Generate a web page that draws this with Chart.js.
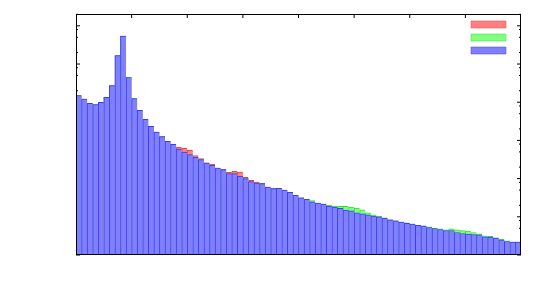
<!DOCTYPE html>
<html>
<head>
<meta charset="utf-8">
<script src="https://cdn.jsdelivr.net/npm/chart.js@4.4.1/dist/chart.umd.min.js"></script>
<style>
  html, body { margin: 0; padding: 0; background: #fff; }
</style>
</head>
<body>
<canvas id="hist" width="543" height="295"></canvas>
<script>
// 80 histogram bins, log y axis
const bins = Array.from({length: 80}, (_, i) => i);

const blueCounts = [
  15000, 12000, 9400, 8700, 10000, 13500, 27400, 167000, 537000, 44400,
  12500, 6160, 3580, 2340, 1660, 1260, 948, 791, 595, 497,
  425, 361, 314, 256, 222, 189, 172, 135, 135, 115,
  100, 83, 76, 74, 60, 54.5, 55.5, 50, 43.6, 36.3,
  31.6, 28.5, 24.8, 22.8, 21.5, 19.0, 17.9, 16.6, 15.0, 14.4,
  12.8, 12.0, 11.3, 10.4, 10.0, 9.06, 8.38, 7.89, 7.25, 6.70,
  6.42, 5.94, 5.69, 5.26, 4.95, 4.66, 4.39, 4.39, 3.89, 3.66,
  3.51, 3.45, 3.39, 3.00, 2.93, 2.76, 2.50, 2.26, 2.17, 2.17
];

const redCounts = [
  15000, 12000, 9400, 8700, 10000, 13500, 27400, 167000, 537000, 44400,
  12500, 6160, 3580, 2340, 1660, 1260, 948, 800, 660, 621,
  550, 400, 333, 260, 241, 189, 175, 146, 155, 148,
  108, 90, 81, 75, 60, 56.5, 55.5, 50, 43.6, 36.3,
  31.6, 28.5, 24.8, 22.8, 21.5, 19.0, 17.9, 16.6, 15.0, 14.4,
  12.8, 12.0, 11.3, 10.4, 10.0, 9.06, 8.38, 7.89, 7.25, 6.70,
  6.42, 5.94, 5.69, 5.26, 4.95, 4.66, 4.39, 4.39, 3.89, 3.66,
  3.51, 3.45, 3.39, 3.00, 2.93, 2.76, 2.50, 2.26, 2.17, 2.17
];

const greenCounts = [
  15000, 12000, 9400, 8700, 10000, 13500, 27400, 167000, 537000, 44400,
  12500, 6160, 3580, 2340, 1660, 1260, 948, 791, 595, 497,
  425, 361, 314, 256, 222, 189, 172, 135, 135, 115,
  100, 83, 76, 74, 60, 54.5, 55.5, 50, 43.6, 36.3,
  31.6, 28.5, 26.4, 22.8, 21.5, 20.2, 19.0, 18.7, 18.7, 17.9,
  16.9, 15.3, 12.8, 11.3, 10.4, 9.45, 8.38, 7.89, 7.25, 6.99,
  6.42, 5.94, 5.83, 5.49, 5.04, 4.86, 4.58, 4.86, 4.58, 4.39,
  4.21, 3.89, 3.60, 3.19, 3.06, 2.83, 2.60, 2.36, 2.17, 2.17
];

// tick marks (no labels in the original)
const yMajorTicks = [1, 10, 100, 1e3, 1e4, 1e5, 1e6];
const yMinorTicks = [2, 5, 8, 20, 50, 80, 200, 500, 800, 2e3, 5e3, 8e3,
                     2e4, 5e4, 8e4, 2e5, 5e5, 8e5, 2e6];
const xTickBins = [10, 20, 30, 40, 50, 60, 70];

const yMin = 1;
const yMax = 2.04e6;

const frameTicks = {
  id: 'frameTicks',
  afterLayout(chart) {
    // put the legend inside the plot, top right
    const a = chart.chartArea;
    const lg = chart.legend;
    lg.left = a.right - 56;
    lg.right = a.right;
    lg.top = a.top + 1;
    lg.bottom = a.bottom;
  },
  beforeDatasetsDraw(chart) {
    const {ctx, chartArea: a, scales: {x, y}} = chart;
    ctx.save();
    ctx.strokeStyle = '#000';
    ctx.lineWidth = 1;
    ctx.beginPath();
    const yTick = (v, len) => {
      const py = y.getPixelForValue(v);
      if (py < a.top || py > a.bottom) return;
      ctx.moveTo(a.left, py); ctx.lineTo(a.left + len, py);
      ctx.moveTo(a.right, py); ctx.lineTo(a.right - len, py);
    };
    yMajorTicks.forEach(v => yTick(v, 4));
    yMinorTicks.forEach(v => yTick(v, 2));
    xTickBins.forEach(b => {
      const px = (x.getPixelForValue(b - 1) + x.getPixelForValue(b)) / 2;
      ctx.moveTo(px, a.top); ctx.lineTo(px, a.top + 4);
      ctx.moveTo(px, a.bottom); ctx.lineTo(px, a.bottom - 4);
    });
    ctx.stroke();
    ctx.restore();
  },
  afterDatasetsDraw(chart) {
    const {ctx, chartArea: a} = chart;
    ctx.save();
    ctx.strokeStyle = '#000';
    ctx.lineWidth = 1;
    ctx.strokeRect(a.left + 0.5, a.top + 0.5, a.right - a.left - 1, a.bottom - a.top - 1);
    ctx.restore();
  }
};

const barBorder = {left: 1, top: 1, right: 0, bottom: 0};

new Chart(document.getElementById('hist'), {
  type: 'bar',
  data: {
    labels: bins,
    datasets: [{
      label: '',
      data: redCounts,
      backgroundColor: '#ff8080',
      borderColor: '#ff3c3c',
      borderWidth: barBorder,
      order: 3
    }, {
      label: '',
      data: greenCounts,
      backgroundColor: '#80ff80',
      borderColor: '#30e030',
      borderWidth: barBorder,
      order: 2
    }, {
      label: '',
      data: blueCounts,
      backgroundColor: '#8080ff',
      borderColor: '#3c3cff',
      borderWidth: barBorder,
      order: 1
    }]
  },
  options: {
    responsive: false,
    animation: false,
    layout: {
      padding: {left: 76, top: 14, right: 22, bottom: 40}
    },
    datasets: {
      bar: {
        grouped: false,
        barPercentage: 1,
        categoryPercentage: 1,
        borderSkipped: 'start'
      }
    },
    scales: {
      x: { display: false },
      y: { type: 'logarithmic', display: false, min: yMin, max: yMax }
    },
    plugins: {
      tooltip: { enabled: false },
      legend: {
        position: 'chartArea',
        align: 'start',
        labels: {
          boxWidth: 35,
          boxHeight: 7,
          padding: 6,
          font: { size: 6 },
          sort: (a, b) => a.datasetIndex - b.datasetIndex
        }
      }
    }
  },
  plugins: [frameTicks]
});
</script>
</body>
</html>
